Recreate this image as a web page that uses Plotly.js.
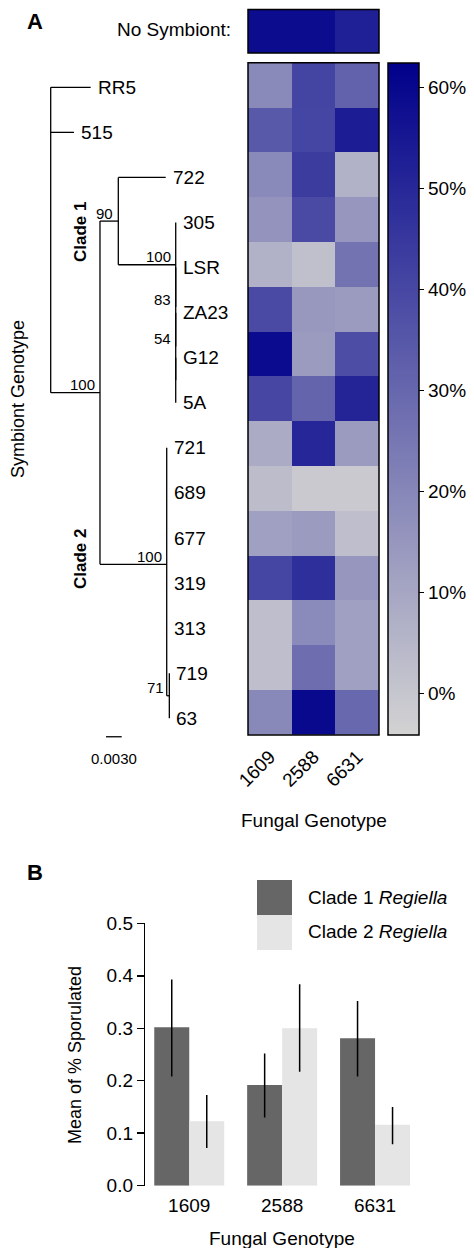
<!DOCTYPE html>
<html>
<head>
<meta charset="utf-8">
<script src="https://cdn.plot.ly/plotly-3.0.1.min.js"></script>
<style>html,body{margin:0;padding:0;background:#fff}#chart{width:474px;height:1248px}</style>
</head>
<body>
<div id="chart"></div>
<script>
// ---------------- DATA ----------------
var fungalGenotypes = ['1609', '2588', '6631'];
var symbiontGenotypes = ['RR5', '515', '722', '305', 'LSR', 'ZA23', 'G12', '5A', '721', '689', '677', '319', '313', '719', '63'];
// % sporulated (heatmap), rows follow symbiontGenotypes, columns follow fungalGenotypes
var sporulation = [
  [19, 41, 31.5],
  [34.5, 40.5, 53.5],
  [19, 43.5, 6.5],
  [16, 39, 15],
  [6.5, 2, 26],
  [39, 14.5, 13.5],
  [59, 13.5, 38],
  [40, 31, 51],
  [8.5, 50.5, 13.5],
  [3, -0.8, -0.8],
  [12, 13.5, 2.5],
  [40.5, 47.5, 15],
  [2.5, 18.5, 12],
  [2.5, 28, 12],
  [19.5, 59.5, 29.5]
];
var noSymbiont = [58.5, 58.5, 52.5];
var colorTicks = [0, 10, 20, 30, 40, 50, 60];
var colorTickLabels = ['0%', '10%', '20%', '30%', '40%', '50%', '60%'];

// phylogeny: node, parent, branch length, bootstrap support
var treeNodes   = ['root','RR5','515','A','C1','722','S','305','T','LSR','U','ZA23','V','G12','5A','C2','721','689','677','319','313','W','719','63'];
var treeParents = ['','root','root','root','A','C1','C1','S','S','T','T','U','U','V','V','A','C2','C2','C2','C2','C2','C2','W','W'];
var branchLengths = [0,0.00764,0.00445,0.00942,0.0035,0.00906,0.01097,0,0,0,0,0,0,0,0,0.01275,0,0,0,0,0,0.0005,0,0];
var bootstrapNodes = ['A','C1','S','T','U','C2','W'];
var bootstrapValues = [100, 90, 100, 83, 54, 100, 71];
var scaleBarLength = 0.003;

// panel B
var cladeNames = ['Clade 1', 'Clade 2'];
var clade1Mean = [0.302, 0.192, 0.281];
var clade1Upper = [0.393, 0.252, 0.352];
var clade1Lower = [0.208, 0.130, 0.208];
var clade2Mean = [0.123, 0.300, 0.116];
var clade2Upper = [0.173, 0.384, 0.150];
var clade2Lower = [0.072, 0.217, 0.079];

// ---------------- LAYOUT HELPERS ----------------
var W = 474, H = 1248;
function px(x){ return x / W; }
function py(y){ return 1 - y / H; }
var FONT = 'Liberation Sans, Arial, Helvetica, sans-serif';
var colorscale = [[0, '#D3D3D3'], [1, '#00008B']];
var zmin = -4.1, zmax = 62.4;

// ---------------- TREE GEOMETRY ----------------
var idx = {}; treeNodes.forEach(function(n,i){ idx[n]=i; });
var children = {}; treeNodes.forEach(function(n){ children[n]=[]; });
treeParents.forEach(function(p,i){ if(p) children[p].push(treeNodes[i]); });
var nx = {}, ny = {};
function setX(n, acc){ nx[n] = acc + branchLengths[idx[n]]; children[n].forEach(function(c){ setX(c, nx[n]); }); }
setX('root', 0);
function setY(n){
  if (children[n].length === 0) { ny[n] = symbiontGenotypes.indexOf(n); return ny[n]; }
  var s = 0; children[n].forEach(function(c){ s += setY(c); }); ny[n] = s / children[n].length; return ny[n];
}
setY('root');
var tx = [], ty = [];
treeNodes.forEach(function(n, i){
  if (treeParents[i]) { tx.push(nx[treeParents[i]], nx[n], null); ty.push(ny[n], ny[n], null); }
  if (children[n].length) {
    var ys = children[n].map(function(c){ return ny[c]; });
    tx.push(nx[n], nx[n], null); ty.push(Math.min.apply(null, ys), Math.max.apply(null, ys), null);
  }
});
var scaleX0 = (106 - 50.7) / 5233;

var traces = [];
traces.push({
  type: 'heatmap', z: sporulation, x: [0,1,2], y: symbiontGenotypes.map(function(_,i){return i;}),
  xaxis: 'x', yaxis: 'y', colorscale: colorscale, zmin: zmin, zmax: zmax, hoverinfo: 'skip',
  colorbar: {
    thickness: 31, thicknessmode: 'pixels', len: (735 - 62.7) / H, lenmode: 'fraction',
    x: px(388), xanchor: 'left', y: py((735 + 62.7) / 2), yanchor: 'middle', xpad: 0, ypad: 0,
    outlinewidth: 1.5, outlinecolor: '#000', ticks: 'outside', ticklen: 5, tickwidth: 1, tickcolor: '#000',
    tickmode: 'array', tickvals: colorTicks, ticktext: colorTickLabels, tickfont: {family: FONT, size: 19, color: '#000'}
  }
});
traces.push({
  type: 'heatmap', z: [noSymbiont], x: [0,1,2], y: [0], xaxis: 'x', yaxis: 'y2',
  colorscale: colorscale, zmin: zmin, zmax: zmax, showscale: false, hoverinfo: 'skip'
});
traces.push({
  type: 'scatter', mode: 'lines', x: tx, y: ty, xaxis: 'x3', yaxis: 'y3',
  line: {color: '#000', width: 1.3}, hoverinfo: 'skip', showlegend: false
});
traces.push({
  type: 'scatter', mode: 'lines', x: [scaleX0, scaleX0 + scaleBarLength], y: [14.41, 14.41], xaxis: 'x3', yaxis: 'y3',
  line: {color: '#000', width: 1.3}, hoverinfo: 'skip', showlegend: false
});
function errs(mean, up, lo){
  return {plus: mean.map(function(m,i){return up[i]-m;}), minus: mean.map(function(m,i){return m-lo[i];})};
}
var e1 = errs(clade1Mean, clade1Upper, clade1Lower), e2 = errs(clade2Mean, clade2Upper, clade2Lower);
traces.push({
  type: 'bar', name: cladeNames[0], x: fungalGenotypes, y: clade1Mean, xaxis: 'x4', yaxis: 'y4',
  marker: {color: '#666666'}, showlegend: false, hoverinfo: 'skip',
  error_y: {type: 'data', array: e1.plus, arrayminus: e1.minus, visible: true, color: '#000', thickness: 1.5, width: 0}
});
traces.push({
  type: 'bar', name: cladeNames[1], x: fungalGenotypes, y: clade2Mean, xaxis: 'x4', yaxis: 'y4',
  marker: {color: '#E5E5E5'}, showlegend: false, hoverinfo: 'skip',
  error_y: {type: 'data', array: e2.plus, arrayminus: e2.minus, visible: true, color: '#000', thickness: 1.5, width: 0}
});

var ann = [];
function A(o){ o.showarrow = false; o.font = Object.assign({family: FONT, size: 19, color: '#000'}, o.font || {}); ann.push(o); }
// leaf labels
symbiontGenotypes.forEach(function(s){
  A({text: s, x: nx[s], y: ny[s], xref: 'x3', yref: 'y3', xanchor: 'left', yanchor: 'middle', xshift: 5});
});
bootstrapNodes.forEach(function(n, i){
  A({text: String(bootstrapValues[i]), x: nx[n], y: ny[n], xref: 'x3', yref: 'y3', xanchor: 'right', yanchor: 'middle', xshift: -3, yshift: 8, font: {size: 15}});
});
A({text: scaleBarLength.toFixed(4), x: scaleX0 + scaleBarLength / 2, y: 14.41, xref: 'x3', yref: 'y3', xanchor: 'center', yanchor: 'middle', yshift: -22, font: {size: 15}});
A({text: '<b>A</b>', x: px(35), y: py(21), xref: 'paper', yref: 'paper', xanchor: 'center', yanchor: 'middle', font: {size: 22}});
A({text: '<b>B</b>', x: px(35), y: py(872), xref: 'paper', yref: 'paper', xanchor: 'center', yanchor: 'middle', font: {size: 22}});
A({text: 'No Symbiont:', x: px(233), y: py(29), xref: 'paper', yref: 'paper', xanchor: 'right', yanchor: 'middle'});
A({text: 'Symbiont Genotype', x: px(18), y: py(399), xref: 'paper', yref: 'paper', xanchor: 'center', yanchor: 'middle', textangle: -90, font: {size: 18}});
A({text: '<b>Clade 1</b>', x: px(80), y: py(232), xref: 'paper', yref: 'paper', xanchor: 'center', yanchor: 'middle', textangle: -90, font: {size: 17}});
A({text: '<b>Clade 2</b>', x: px(80), y: py(559), xref: 'paper', yref: 'paper', xanchor: 'center', yanchor: 'middle', textangle: -90, font: {size: 17}});
A({text: 'Fungal Genotype', x: px(313.5), y: py(820), xref: 'paper', yref: 'paper', xanchor: 'center', yanchor: 'middle'});
A({text: 'Mean of % Sporulated', x: px(75), y: py(1055), xref: 'paper', yref: 'paper', xanchor: 'center', yanchor: 'middle', textangle: -90, font: {size: 18}});
A({text: 'Fungal Genotype', x: px(282), y: py(1238), xref: 'paper', yref: 'paper', xanchor: 'center', yanchor: 'middle'});
A({text: cladeNames[0] + ' <i>Regiella</i>', x: px(306), y: py(897), xref: 'paper', yref: 'paper', xanchor: 'left', yanchor: 'middle'});
A({text: cladeNames[1] + ' <i>Regiella</i>', x: px(306), y: py(931), xref: 'paper', yref: 'paper', xanchor: 'left', yanchor: 'middle'});

var shapes = [
  {type: 'rect', xref: 'x domain', yref: 'y domain', x0: 0, x1: 1, y0: 0, y1: 1, line: {color: '#000', width: 1.5}},
  {type: 'rect', xref: 'x domain', yref: 'y2 domain', x0: 0, x1: 1, y0: 0, y1: 1, line: {color: '#000', width: 1.5}},
  {type: 'rect', xref: 'paper', yref: 'paper', x0: px(257), x1: px(292), y0: py(915), y1: py(880), fillcolor: '#666666', line: {width: 0}},
  {type: 'rect', xref: 'paper', yref: 'paper', x0: px(257), x1: px(292), y0: py(950), y1: py(915), fillcolor: '#E5E5E5', line: {width: 0}}
];

var hidden = {visible: false, showgrid: false, zeroline: false, fixedrange: true};
var layout = {
  width: W, height: H, margin: {l: 0, r: 0, t: 0, b: 0},
  paper_bgcolor: '#fff', plot_bgcolor: 'rgba(0,0,0,0)', showlegend: false,
  font: {family: FONT, color: '#000'},
  barmode: 'group', bargap: 0.2465, bargroupgap: 0,
  xaxis: {domain: [px(248), px(379)], range: [-0.5, 2.5], tickvals: [0,1,2], ticktext: fungalGenotypes, tickangle: -45,
          ticks: '', showgrid: false, zeroline: false, showline: false, anchor: 'y', fixedrange: true, ticklabelstandoff: 6,
          tickfont: {family: FONT, size: 19, color: '#000'}},
  yaxis: {domain: [py(735), py(62.7)], range: [14.5, -0.5], showticklabels: false, ticks: '', showgrid: false, zeroline: false, anchor: 'x', fixedrange: true},
  yaxis2: {domain: [py(53), py(9.5)], range: [-0.5, 0.5], visible: false, anchor: 'x', fixedrange: true},
  xaxis3: Object.assign({domain: [0, px(240)], range: [(0 - 50.7) / 5233, (240 - 50.7) / 5233], anchor: 'y3'}, hidden),
  yaxis3: Object.assign({domain: [0, 1], range: [(H - 87.3) / 45.07, -87.3 / 45.07], anchor: 'x3'}, hidden),
  xaxis4: {domain: [px(145.3), px(421.5)], type: 'category', range: [-0.4731, 2.5], ticks: '', showline: false, showgrid: false,
           zeroline: false, anchor: 'y4', fixedrange: true, ticklabelstandoff: 6, tickfont: {family: FONT, size: 19, color: '#000'}},
  yaxis4: {domain: [py(1185.7), py(923.3)], range: [0, 0.5], tickvals: [0, 0.1, 0.2, 0.3, 0.4, 0.5], tickformat: '.1f',
           showline: true, linecolor: '#000', linewidth: 1.5, ticks: 'outside', ticklen: 7, tickwidth: 1.5, tickcolor: '#000',
           showgrid: false, zeroline: false, anchor: 'x4', fixedrange: true, tickfont: {family: FONT, size: 19, color: '#000'}},
  annotations: ann, shapes: shapes
};
Plotly.newPlot('chart', traces, layout, {staticPlot: true, displayModeBar: false});
</script>
</body>
</html>
